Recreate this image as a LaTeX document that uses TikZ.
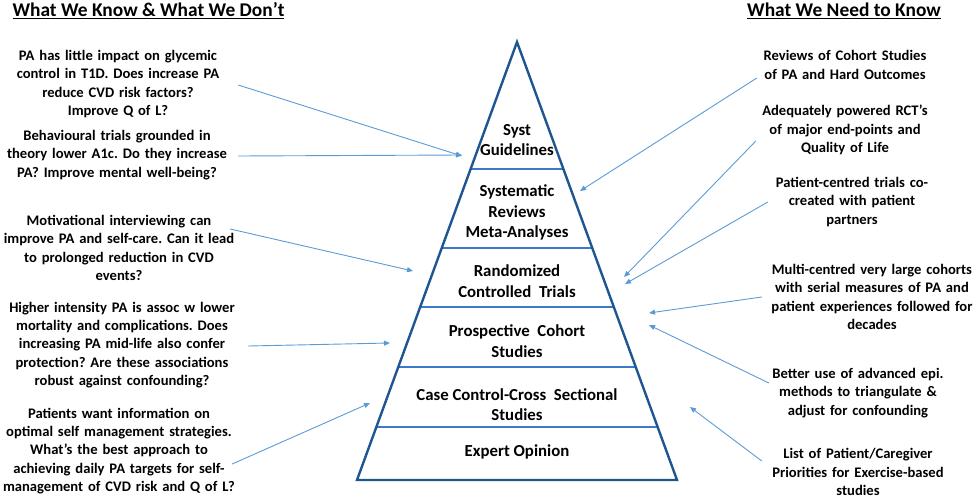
\documentclass[tikz,border=0pt]{standalone}
\usepackage{fontspec}
\setmainfont{Carlito}
\usetikzlibrary{arrows.meta, calc}
\frenchspacing

\definecolor{edgeblue}{RGB}{31,86,145}
\definecolor{tierblue}{RGB}{58,122,200}
\definecolor{pinblue}{RGB}{91,155,213}

\tikzset{
  know/.style={inner sep=0pt, text width=250pt, align=center, font=\bfseries\fontsize{14.6}{18.3}\selectfont},
  need/.style={inner sep=0pt, text width=230pt, align=center, font=\bfseries\fontsize{14.6}{18.3}\selectfont},
  level/.style={inner sep=0pt, align=center, font=\bfseries\fontsize{16.8}{20.5}\selectfont},
  heading/.style={inner sep=0pt, anchor=base, font=\bfseries\fontsize{19.4}{24}\selectfont},
  pin/.style={pinblue, line width=.9pt, -{Triangle[length=6pt, width=5pt]}},
  tier/.style={tierblue, line width=2.4pt},
}

\begin{document}
\begin{tikzpicture}[x=1pt, y=-1pt]
\useasboundingbox (0,0) rectangle (978,498);

\node[heading] (h1) at (148.5,16.5) {\underline{What We Know \& What We Don’t}};
\node[heading] (h2) at (844,16.5) {\underline{What We Need to Know}};

\coordinate (top) at (517,42);
\coordinate (bl) at (357,480);
\coordinate (br) at (677,480);

\foreach \y in {169,248,307,367,427}
    \draw[tier] ($(top)!{(\y-42)/438}!(bl)$) -- ($(top)!{(\y-42)/438}!(br)$);
\draw[edgeblue, line width=2.4pt, line join=miter] (top) -- (br) -- (bl) -- cycle;

\node[level] (p1) at (517,140) {Syst\\Guidelines};
\node[level] (p2) at (517,212.5) {Systematic\\Reviews\\Meta-Analyses};
\node[level] (p3) at (517,281) {Randomized\\Controlled~ Trials};
\node[level] (p4) at (517,341) {Prospective~ Cohort\\Studies};
\node[level] (p5) at (517,404.5) {Case Control-Cross~ Sectional\\Studies};
\node[level] (p6) at (517,452) {Expert Opinion};

\node[know] (l1) at (118,84) {PA has little impact on glycemic\\control in T1D. Does increase PA\\reduce CVD risk factors?\\Improve Q of L?};
\node[know] (l2) at (117,155) {Behavioural trials grounded in\\theory lower A1c. Do they increase\\PA? Improve mental well-being?};
\node[know] (l3) at (119,248) {Motivational interviewing can\\improve PA and self-care. Can it lead\\to prolonged reduction in CVD\\events?};
\node[know] (l4) at (122,345) {Higher intensity PA is assoc w lower\\mortality and complications. Does\\increasing PA mid-life also confer\\protection? Are these associations\\robust against confounding?};
\node[know] (l5) at (119,451) {Patients want information on\\optimal self management strategies.\\What’s the best approach to\\achieving daily PA targets for self-\\management of CVD risk and Q of L?};

\node[need] (r1) at (845,65) {Reviews of Cohort Studies\\of PA and Hard Outcomes};
\node[need] (r2) at (845,130) {Adequately powered RCT’s\\of major end-points and\\Quality of Life};
\node[need] (r3) at (852,202) {Patient-centred trials co-\\created with patient\\partners};
\node[need] (r4) at (872,297) {Multi-centred very large cohorts\\with serial measures of PA and\\patient experiences followed for\\decades};
\node[need] (r5) at (858,393) {Better use of advanced epi.\\methods to triangulate \&\\adjust for confounding};
\node[need] (r6) at (858,472) {List of Patient/Caregiver\\Priorities for Exercise-based\\studies};

\coordinate (tl1) at (462,156);
\coordinate (tl2) at (462,155);
\coordinate (tl3) at (413,271);
\coordinate (tl4) at (390,343);
\coordinate (tl5) at (370,403);
\coordinate (tr1) at (580,191);
\coordinate (tr2) at (624,277);
\coordinate (tr3) at (625,284);
\coordinate (tr4) at (649,313);
\coordinate (tr5) at (649,325);
\coordinate (tr6) at (690,407);

\draw[pin] (l1.east) ++(-5,1) -- (tl1);
\draw[pin] (l2.east) ++(-4,1) -- (tl2);
\draw[pin] (l3.east) ++(-14,-19) -- (tl3);
\draw[pin] (l4.east) ++(1,1) -- (tl4);
\draw[pin] (l5.east) ++(-12,13) -- (tl5);

\draw[pin] (r1.west) ++(27,13) -- (tr1);
\draw[pin] (r2.west) ++(26,11) -- (tr2);
\draw[pin] (r3.west) ++(31,0) -- (tr3);
\draw[pin] (r4.west) ++(5,0) -- (tr4);
\draw[pin] (r5.west) ++(26,-10) -- (tr5);
\draw[pin] (r6.west) ++(19,-11) -- (tr6);

\end{tikzpicture}
\end{document}
